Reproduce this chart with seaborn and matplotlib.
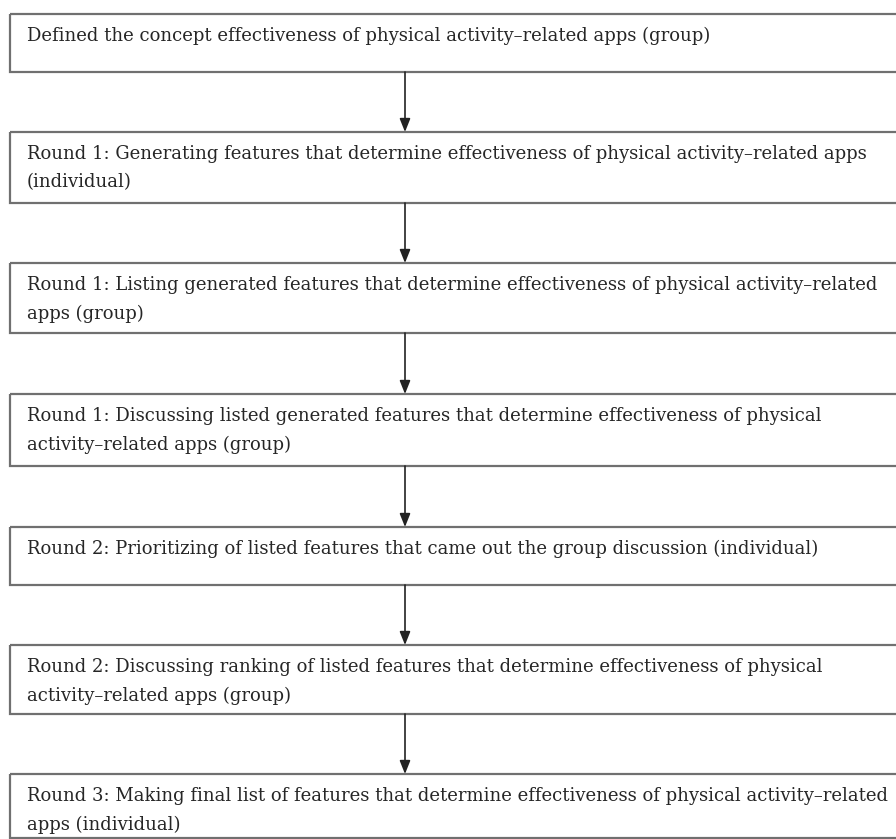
import matplotlib
matplotlib.use('Agg')
import matplotlib.pyplot as plt
from matplotlib.patches import Rectangle
import seaborn as sns

# steps of the flow, top to bottom (pixel rows of each box)
box_top = [14, 132, 263, 394, 527, 645, 774]
box_bottom = [72, 203, 333, 466, 585, 714, 838]
labels = [
    ['Defined the concept effectiveness of physical activity\u2013related apps (group)'],
    ['Round 1: Generating features that determine effectiveness of physical activity\u2013related apps',
     '(individual)'],
    ['Round 1: Listing generated features that determine effectiveness of physical activity\u2013related',
     'apps (group)'],
    ['Round 1: Discussing listed generated features that determine effectiveness of physical',
     'activity\u2013related apps (group)'],
    ['Round 2: Prioritizing of listed features that came out the group discussion (individual)'],
    ['Round 2: Discussing ranking of listed features that determine effectiveness of physical',
     'activity\u2013related apps (group)'],
    ['Round 3: Making final list of features that determine effectiveness of physical activity\u2013related',
     'apps (individual)'],
]

sns.set_style('white')
plt.rcParams['font.family'] = ['DejaVu Serif']

W, H = 896, 839
fig = plt.figure(figsize=(W / 100, H / 100), dpi=100)
ax = fig.add_axes([0, 0, 1, 1])
ax.set_xlim(0, W)
ax.set_ylim(H, 0)
ax.axis('off')

left = 10
arrow_x = 405
for i, (top, bot, lines) in enumerate(zip(box_top, box_bottom, labels)):
    ax.add_patch(Rectangle((left, top), W + 20, bot - top, fill=False,
                           edgecolor='#707070', linewidth=1.6))
    for j, line in enumerate(lines):
        ax.text(27, top + 22 + j * 28.5, line, fontsize=13.0, color='#262626',
                va='center', ha='left')
    if i < len(box_top) - 1:
        ax.annotate('', xy=(arrow_x, box_top[i + 1]), xytext=(arrow_x, bot),
                    arrowprops=dict(arrowstyle='-|>,head_length=0.8,head_width=0.32',
                                    color='#222222', lw=1.2,
                                    shrinkA=0, shrinkB=0))

fig.savefig('out.png', dpi=100)
